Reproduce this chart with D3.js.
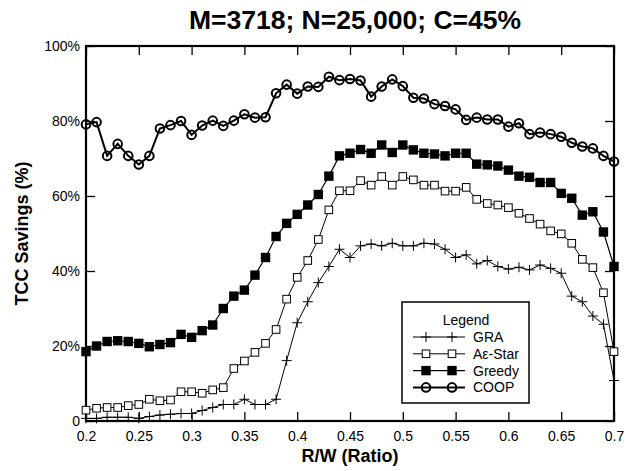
<!DOCTYPE html>
<html>
<head>
<meta charset="utf-8">
<script src="https://cdn.jsdelivr.net/npm/d3@7"></script>
<style>
  body { margin: 0; background: #fff; }
  svg { display: block; font-family: "Liberation Sans", Arial, Helvetica, sans-serif; }
</style>
</head>
<body>
<svg id="chart" width="635" height="471"></svg>
<script>
// ---- data ----
const ratios = [0.20,0.21,0.22,0.23,0.24,0.25,0.26,0.27,0.28,0.29,0.30,0.31,0.32,0.33,0.34,0.35,0.36,0.37,0.38,0.39,0.40,0.41,0.42,0.43,0.44,0.45,0.46,0.47,0.48,0.49,0.50,0.51,0.52,0.53,0.54,0.55,0.56,0.57,0.58,0.59,0.60,0.61,0.62,0.63,0.64,0.65,0.66,0.67,0.68,0.69,0.70];
const graValues = [0.7,0.7,1.0,1.0,1.0,0.7,1.2,1.6,1.8,2.0,2.0,2.8,3.6,4.4,4.4,5.8,4.4,4.4,5.8,16.1,26.2,31.8,36.9,41.2,45.8,43.6,46.7,47.2,46.7,47.4,46.7,46.7,47.4,47.2,45.8,43.6,44.3,41.9,42.8,41.2,40.5,41.0,40.3,41.6,40.7,39.4,33.3,31.8,28.0,25.8,10.8];
const aestarValues = [2.9,3.4,3.6,3.6,4.1,4.4,5.8,5.4,5.6,7.8,7.8,7.4,8.3,8.9,14.0,16.0,18.3,20.7,24.4,32.5,38.3,42.8,48.4,56.3,61.4,61.4,64.1,62.9,65.2,62.9,65.2,64.3,62.9,62.9,61.3,61.3,62.3,59.1,58.0,57.6,56.9,55.4,54.0,52.5,50.7,49.9,47.4,43.1,40.9,34.2,18.5];
const greedyValues = [18.5,20.0,21.2,21.4,21.2,20.7,19.8,20.4,20.9,23.1,22.3,24.1,25.6,30.0,33.3,34.9,38.9,43.6,49.2,52.7,55.1,57.6,60.4,65.3,70.7,71.4,72.4,71.4,73.6,71.6,73.6,72.3,71.4,71.2,70.7,71.4,71.4,68.5,68.3,68.0,66.9,65.3,65.0,63.6,63.6,60.7,59.4,54.9,55.8,50.4,41.2];
const coopValues = [79.1,79.7,70.7,73.9,70.7,68.4,70.7,78.0,78.9,80.0,76.3,78.8,80.1,78.7,80.1,81.8,80.9,81.0,87.4,89.7,87.3,89.2,89.1,91.8,90.9,91.2,90.8,86.5,89.2,91.1,89.3,86.2,86.0,84.5,84.0,83.1,80.3,80.9,80.4,80.4,78.5,79.4,76.5,76.9,76.5,75.8,74.2,73.2,72.7,70.7,69.2];
const seriesNames = ["GRA", "A\u03B5-Star", "Greedy", "COOP"];
const xTicks = [0.2,0.25,0.3,0.35,0.4,0.45,0.5,0.55,0.6,0.65,0.7];
const xTickLabels = ["0.2","0.25","0.3","0.35","0.4","0.45","0.5","0.55","0.6","0.65","0.7"];
const yTicks = [0,20,40,60,80,100];
const yTickLabels = ["0","20%","40%","60%","80%","100%"];
const titleText = "M=3718; N=25,000; C=45%";
const xTitle = "R/W (Ratio)";
const yTitle = "TCC Savings (%)";

// ---- layout ----
const svg = d3.select("#chart");
const L = 86, R = 614, T = 46, B = 421;
const x = d3.scaleLinear().domain([0.2, 0.7]).range([L, R]);
const y = d3.scaleLinear().domain([0, 100]).range([B, T]);

const series = [
  {name: seriesNames[0], values: graValues, marker: "cross", lw: 1},
  {name: seriesNames[1], values: aestarValues, marker: "open", lw: 1},
  {name: seriesNames[2], values: greedyValues, marker: "filled", lw: 1.2},
  {name: seriesNames[3], values: coopValues, marker: "circle", lw: 2}
];

// title
svg.append("text").attr("x", 355).attr("y", 29).attr("text-anchor", "middle")
  .attr("font-size", 26.5).attr("font-weight", "bold").text(titleText);

// axes with inward ticks
const fmtX = (d) => xTickLabels[xTicks.indexOf(d)];
const fmtY = (d) => yTickLabels[yTicks.indexOf(d)];

const gx = svg.append("g").attr("transform", `translate(0,${B})`)
  .call(d3.axisBottom(x).tickValues(xTicks).tickFormat(fmtX).tickSizeInner(-9).tickSizeOuter(0).tickPadding(10));
const gxt = svg.append("g").attr("transform", `translate(0,${T})`)
  .call(d3.axisTop(x).tickValues(xTicks).tickFormat("").tickSizeInner(-9).tickSizeOuter(0));
const gy = svg.append("g").attr("transform", `translate(${L},0)`)
  .call(d3.axisLeft(y).tickValues(yTicks).tickFormat(fmtY).tickSizeInner(-9).tickSizeOuter(0).tickPadding(6));
const gyr = svg.append("g").attr("transform", `translate(${R},0)`)
  .call(d3.axisRight(y).tickValues(yTicks).tickFormat("").tickSizeInner(-9).tickSizeOuter(0));

[gx, gxt, gy, gyr].forEach(g => {
  g.select(".domain").remove();
  g.selectAll(".tick line").attr("stroke", "#000").attr("stroke-width", 1.3);
  g.selectAll(".tick text").attr("font-size", 14).attr("fill", "#000")
    .attr("font-family", "'Liberation Sans', Arial, sans-serif");
});

// frame
svg.append("rect").attr("x", L).attr("y", T).attr("width", R - L).attr("height", B - T)
  .attr("fill", "none").attr("stroke", "#000").attr("stroke-width", 2.2);

// axis titles
svg.append("text").attr("x", (L + R) / 2).attr("y", 462).attr("text-anchor", "middle")
  .attr("font-size", 18).attr("font-weight", "bold").text(xTitle);
svg.append("text").attr("transform", `translate(28,${(T + B) / 2}) rotate(-90)`)
  .attr("text-anchor", "middle").attr("font-size", 18).attr("font-weight", "bold").text(yTitle);

// marker drawing
function drawMarker(g, type, cx, cy) {
  if (type === "cross") {
    g.append("path").attr("d", `M${cx - 5},${cy}H${cx + 5}M${cx},${cy - 5}V${cy + 5}`)
      .attr("stroke", "#000").attr("stroke-width", 1).attr("fill", "none");
  } else if (type === "open") {
    g.append("rect").attr("x", cx - 3.8).attr("y", cy - 3.8).attr("width", 7.6).attr("height", 7.6)
      .attr("fill", "#fff").attr("stroke", "#000").attr("stroke-width", 1);
  } else if (type === "filled") {
    g.append("rect").attr("x", cx - 4.7).attr("y", cy - 4.7).attr("width", 9.4).attr("height", 9.4)
      .attr("fill", "#000");
  } else if (type === "circle") {
    g.append("circle").attr("cx", cx).attr("cy", cy).attr("r", 4.3)
      .attr("fill", "none").attr("stroke", "#000").attr("stroke-width", 2);
  }
}

const line = d3.line().x((d, i) => x(ratios[i])).y(d => y(d));
series.forEach(s => {
  const g = svg.append("g");
  g.append("path").attr("d", line(s.values)).attr("fill", "none")
    .attr("stroke", "#000").attr("stroke-width", s.lw);
  s.values.forEach((v, i) => drawMarker(g, s.marker, x(ratios[i]), y(v)));
});

// legend
const lg = svg.append("g");
lg.append("rect").attr("x", 402).attr("y", 302).attr("width", 127).attr("height", 101)
  .attr("fill", "#fff").attr("stroke", "#000").attr("stroke-width", 1.5);
lg.append("text").attr("x", 466).attr("y", 325).attr("text-anchor", "middle")
  .attr("font-size", 14).text("Legend");
series.forEach((s, i) => {
  const ly = 337 + i * 16.8;
  lg.append("line").attr("x1", 413).attr("x2", 465).attr("y1", ly).attr("y2", ly)
    .attr("stroke", "#000").attr("stroke-width", s.lw);
  drawMarker(lg, s.marker, 426, ly);
  drawMarker(lg, s.marker, 452, ly);
  lg.append("text").attr("x", 473).attr("y", ly).attr("dy", "0.36em")
    .attr("font-size", 14).text(s.name);
});
</script>
</body>
</html>
